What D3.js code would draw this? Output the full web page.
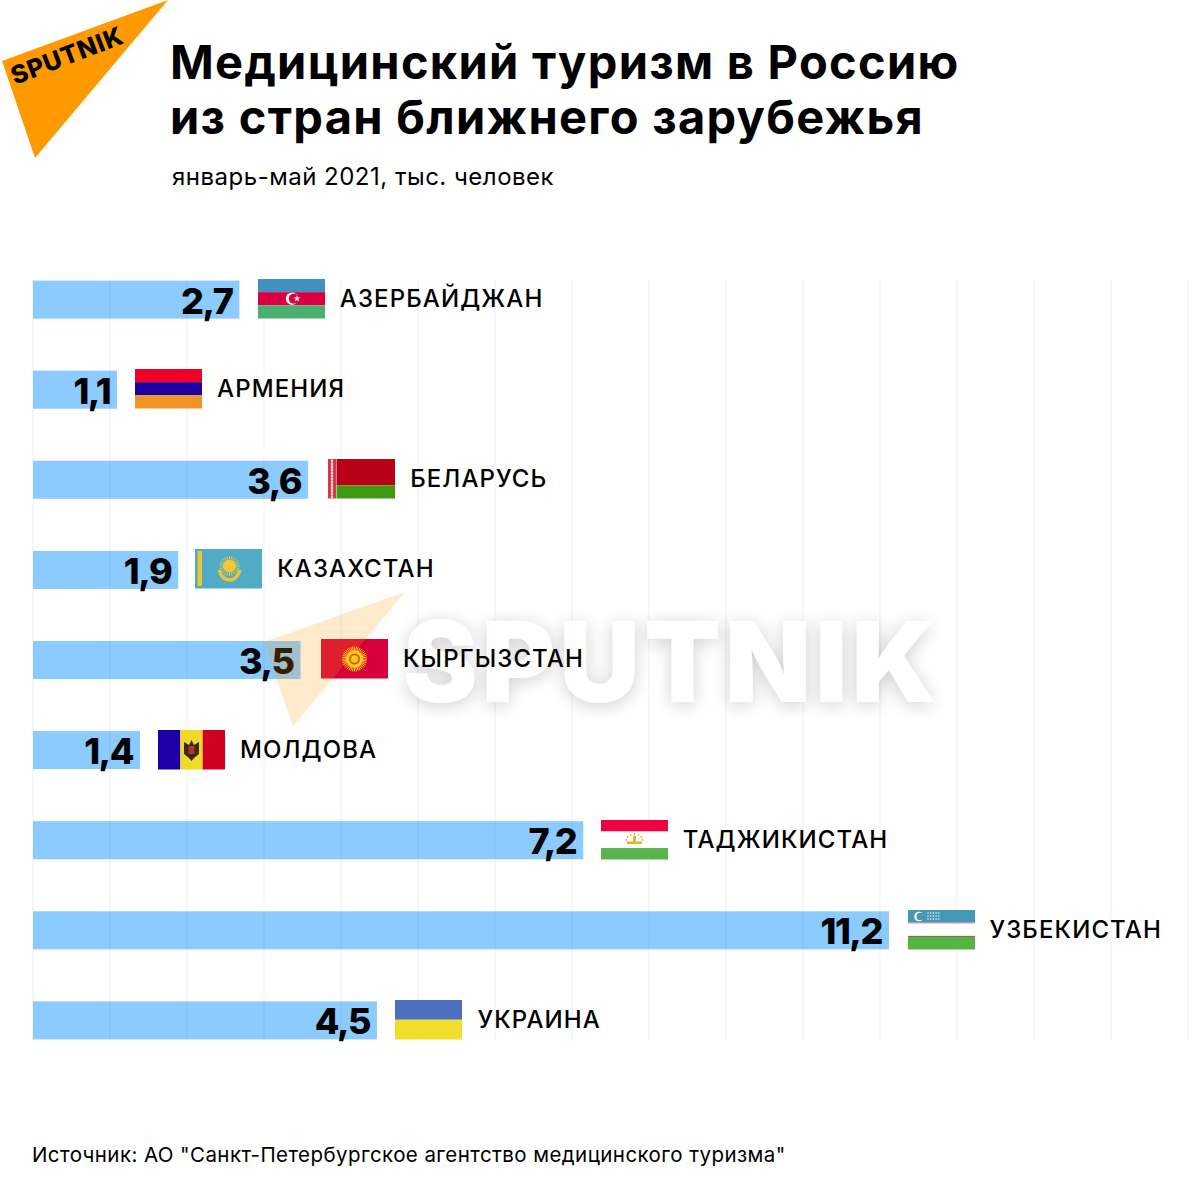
<!DOCTYPE html>
<html>
<head>
<meta charset="utf-8">
<script src="https://cdn.jsdelivr.net/npm/d3@7"></script>
<style>
  html, body { margin: 0; padding: 0; background: #fff; }
  text { font-family: Inter, "Noto Sans", sans-serif; fill: #000; }
</style>
</head>
<body>
<script>
// values are thousands of people, jan-may 2021
var countries = ["АЗЕРБАЙДЖАН", "АРМЕНИЯ", "БЕЛАРУСЬ", "КАЗАХСТАН", "КЫРГЫЗСТАН", "МОЛДОВА", "ТАДЖИКИСТАН", "УЗБЕКИСТАН", "УКРАИНА"]
var values = [2.7, 1.1, 3.6, 1.9, 3.5, 1.4, 7.2, 11.2, 4.5]
var titleLines = ["Медицинский туризм в Россию", "из стран ближнего зарубежья"]
var subtitle = "январь-май 2021, тыс. человек"
var source = "Источник: АО \"Санкт-Петербургское агентство медицинского туризма\""

// flags do not sit at one exact distance from the bar ends
var flagGaps = [18.5, 18, 20, 17, 20.5, 18, 17.5, 18.5, 18.5]

var width = 1200, height = 1199

var svg = d3.select("body").append("svg")
  .attr("width", width)
  .attr("height", height)
  .style("display", "block")

// bars and faint grid do not share a step in the original
var x = d3.scaleLinear().domain([0, 11.2]).range([33, 889])
var gridX = d3.scaleLinear().domain([0, 15]).range([33, 1188])
var y = d3.scaleBand().domain(countries).range([280.6, 1039.4]).paddingInner(0.578)

var flagW = 67, flagH = 39.5

svg.selectAll("rect.bar")
  .data(values)
  .enter()
  .append("rect")
  .classed("bar", true)
  .attr("x", x(0))
  .attr("y", function(d, i){ return y(countries[i]) })
  .attr("width", function(d){ return x(d) - x(0) })
  .attr("height", y.bandwidth())
  .attr("fill", "#8bcbff")

svg.selectAll("rect.grid")
  .data(gridX.ticks(15))
  .enter()
  .append("rect")
  .classed("grid", true)
  .attr("x", function(d){ return gridX(d) - 1 })
  .attr("y", 280)
  .attr("width", 2)
  .attr("height", 760)
  .attr("fill", "#4a4ae0")
  .attr("opacity", 0.05)

// big white word goes under the labels, its triangle goes on top
svg.append("text")
  .attr("x", 403)
  .attr("y", 702)
  .attr("font-size", 112)
  .attr("font-weight", 900)
  .attr("letter-spacing", 4)
  .attr("opacity", 0.92)
  .style("fill", "#fff")
  .style("filter", "drop-shadow(0 3px 9px rgba(0,0,0,0.2))")
  .text("SPUTNIK")

svg.selectAll("text.value")
  .data(values)
  .enter()
  .append("text")
  .classed("value", true)
  .attr("x", function(d){ return x(d) - 7 })
  .attr("y", function(d, i){ return y(countries[i]) + 33 })
  .attr("text-anchor", "end")
  .attr("font-size", 36)
  .attr("font-weight", 800)
  .attr("letter-spacing", -1.5)
  .text(function(d){ return String(d).replace(".", ",") })

// flags: stripes first, small emblems after
function stripes(g, list) {
  var top = 0
  list.forEach(function(s){
    g.append("rect")
      .attr("x", s[2] || 0)
      .attr("y", top * flagH)
      .attr("width", flagW - (s[2] || 0))
      .attr("height", s[1] * flagH)
      .attr("fill", s[0])
    top += s[1]
  })
}

function crescent(g, cx, cy, r, bg) {
  g.append("circle").attr("cx", cx).attr("cy", cy).attr("r", r).attr("fill", "#fff")
  g.append("circle").attr("cx", cx + r * 0.28).attr("cy", cy).attr("r", r * 0.8).attr("fill", bg)
}

function rays(g, cx, cy, r1, r2, n, color) {
  d3.range(0, n).forEach(function(k){
    var a = 2 * Math.PI * k / n
    g.append("line")
      .attr("x1", cx + r1 * Math.cos(a))
      .attr("y1", cy + r1 * Math.sin(a))
      .attr("x2", cx + r2 * Math.cos(a))
      .attr("y2", cy + r2 * Math.sin(a))
      .attr("stroke", color)
      .attr("stroke-width", 1)
  })
}

var flagDraw = {
  "АЗЕРБАЙДЖАН": function(g){
    stripes(g, [["#448fc1", 1/3], ["#d8003f", 1/3], ["#4bb06d", 1/3]])
    crescent(g, 34, 19.7, 6.2, "#d8003f")
    g.append("path")
      .attr("d", d3.symbol(d3.symbolStar, 14))
      .attr("transform", "translate(39,19.7)")
      .attr("fill", "#fff")
  },
  "АРМЕНИЯ": function(g){
    stripes(g, [["#f00028", 1/3], ["#20009f", 1/3], ["#f29423", 1/3]])
  },
  "БЕЛАРУСЬ": function(g){
    g.append("rect").attr("width", 8).attr("height", flagH).attr("fill", "#cf3a4a")
    d3.range(0, 13).forEach(function(k){
      g.append("path")
        .attr("d", d3.symbol(d3.symbolDiamond, 6))
        .attr("transform", "translate(4," + (k * 3 + 2) + ")")
        .attr("fill", "#f6d5d8")
    })
    stripes(g, [["#b80017", 2/3, 8.5], ["#3f9a12", 1/3, 8.5]])
  },
  "КАЗАХСТАН": function(g){
    stripes(g, [["#50acc4", 1]])
    g.append("rect").attr("x", 2.5).attr("y", 2).attr("width", 4.5).attr("height", 35).attr("fill", "#f2c530")
    g.append("circle").attr("cx", 34.5).attr("cy", 17).attr("r", 6.5).attr("fill", "#f6c92f")
    rays(g, 34.5, 17, 7, 10, 24, "#f6c92f")
    g.append("path")
      .attr("d", "M24 21 Q27 31 34.5 31 Q42 31 45 21")
      .attr("fill", "none").attr("stroke", "#f2c530").attr("stroke-width", 3.5)
  },
  "КЫРГЫЗСТАН": function(g){
    stripes(g, [["#d8003a", 1]])
    rays(g, 33.5, 20, 7, 12.5, 40, "#f7d21e")
    g.append("circle").attr("cx", 33.5).attr("cy", 20).attr("r", 8.5).attr("fill", "#f7d21e")
    g.append("circle").attr("cx", 33.5).attr("cy", 20).attr("r", 5.5).attr("fill", "#e0501c")
    g.append("circle").attr("cx", 33.5).attr("cy", 20).attr("r", 3.8).attr("fill", "#f7d21e")
  },
  "МОЛДОВА": function(g){
    g.append("rect").attr("width", flagW / 3).attr("height", flagH).attr("fill", "#1d00a5")
    g.append("rect").attr("x", flagW / 3).attr("width", flagW / 3).attr("height", flagH).attr("fill", "#f0d928")
    g.append("rect").attr("x", flagW * 2 / 3).attr("width", flagW / 3).attr("height", flagH).attr("fill", "#d00020")
    g.append("path")
      .attr("d", "M26 12 L31 15 L33.5 10 L36 15 L41 12 L41 24 L36 28 L33.5 31 L31 28 L26 24 Z")
      .attr("fill", "#3a2a12")
    g.append("rect").attr("x", 30.5).attr("y", 16).attr("width", 6).attr("height", 8).attr("fill", "#b5322a")
  },
  "ТАДЖИКИСТАН": function(g){
    stripes(g, [["#f00040", 0.29], ["#fff", 0.42], ["#5ab34c", 0.29]])
    g.append("path")
      .attr("d", "M26 21.5 L41 21.5 L41 24 L26 24 Z M32 16 L35 16 L35 22 L32 22 Z")
      .attr("fill", "#e0b52a")
    d3.range(0, 7).forEach(function(k){
      var a = Math.PI * (k / 6)
      g.append("circle")
        .attr("cx", 33.5 - 8 * Math.cos(a))
        .attr("cy", 20 - 6 * Math.sin(a))
        .attr("r", 0.9)
        .attr("fill", "#e0b52a")
    })
  },
  "УЗБЕКИСТАН": function(g){
    stripes(g, [["#4499b6", 0.32], ["#e06a8a", 0.025], ["#fff", 0.31], ["#a8323a", 0.025], ["#54b543", 0.32]])
    crescent(g, 11, 6.5, 4.8, "#4499b6")
    d3.range(0, 3).forEach(function(r){
      d3.range(0, 5).forEach(function(c){
        g.append("circle")
          .attr("cx", 20 + c * 2.7)
          .attr("cy", 3 + r * 3)
          .attr("r", 0.7)
          .attr("fill", "#fff")
      })
    })
  },
  "УКРАИНА": function(g){
    stripes(g, [["#4c6fbf", 0.5], ["#f2dd2d", 0.5]])
  }
}

var flags = svg.selectAll("g.flag")
  .data(values)
  .enter()
  .append("g")
  .classed("flag", true)
  .attr("transform", function(d, i){
    return "translate(" + Math.round(x(d) + flagGaps[i]) + "," + Math.round(y(countries[i]) - 1.5) + ")"
  })
  .each(function(d, i){
    flagDraw[countries[i]](d3.select(this))
  })

svg.selectAll("text.label")
  .data(values)
  .enter()
  .append("text")
  .classed("label", true)
  .attr("x", function(d, i){ return x(d) + flagGaps[i] + flagW + 15 })
  .attr("y", function(d, i){ return y(countries[i]) + 26.5 })
  .attr("font-size", 24)
  .attr("font-weight", 500)
  .attr("letter-spacing", 1.1)
  .text(function(d, i){ return countries[i] })

// title block
svg.selectAll("text.title")
  .data(titleLines)
  .enter()
  .append("text")
  .classed("title", true)
  .attr("x", 170)
  .attr("y", function(d, i){ return 79 + i * 55 })
  .attr("font-size", 47)
  .attr("font-weight", 700)
  .attr("letter-spacing", 1.3)
  .text(function(d){ return d })

svg.append("text")
  .attr("x", 172)
  .attr("y", 185)
  .attr("font-size", 24)
  .attr("letter-spacing", 0.5)
  .text(subtitle)

svg.append("text")
  .attr("x", 32)
  .attr("y", 1162)
  .attr("font-size", 20.5)
  .attr("letter-spacing", 0.42)
  .text(source)

// logo corner
svg.append("path")
  .attr("d", "M168 0 L2 61 L35 158 Z")
  .attr("fill", "#ff9900")

svg.append("text")
  .attr("transform", "translate(15,85) rotate(-21)")
  .attr("font-size", 25)
  .attr("font-weight", 800)
  .attr("letter-spacing", 0.8)
  .text("SPUTNIK")

// watermark triangle
svg.append("path")
  .attr("d", "M405 592 L264 642 L293 726 Z")
  .attr("fill", "#ff9900")
  .attr("opacity", 0.2)
  .style("filter", "drop-shadow(0 3px 8px rgba(0,0,0,0.12))")
</script>
</body>
</html>
